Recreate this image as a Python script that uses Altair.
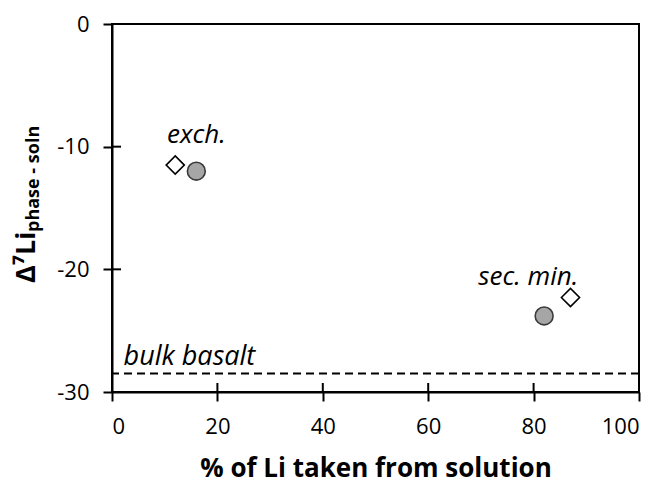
import altair as alt
import pandas as pd

# Δ7Li fractionation vs. fraction of Li removed from solution
open_x = [12, 87]          # open diamonds
open_y = [-11.5, -22.3]
filled_x = [16, 82]        # filled circles
filled_y = [-12.0, -23.8]

label_text = ["exch.", "sec. min."]
label_x = [16, 79]
label_y = [-9.7, -21.3]

bulk_basalt = -28.5
x_ticks = [0, 20, 40, 60, 80, 100]
y_ticks = [-30, -20, -10, 0]

FONT = "Open Sans"
W, H = 527, 368
TICK = 9

diamonds = pd.DataFrame({"x": open_x, "y": open_y})
circles = pd.DataFrame({"x": filled_x, "y": filled_y})
labels = pd.DataFrame({"x": label_x, "y": label_y, "t": label_text})
basalt = pd.DataFrame({"y": [bulk_basalt], "t": ["bulk basalt"], "x": [2.2], "ty": [-27.8]})
xt = pd.DataFrame({"v": x_ticks})
yt = pd.DataFrame({"v": y_ticks})

xs = alt.Scale(domain=[0, 100], nice=False, zero=False)
ys = alt.Scale(domain=[-30, 0], nice=False, zero=False)

x_axis = alt.Axis(values=x_ticks, orient="bottom", grid=False,
                  title="% of Li taken from solution", titleFont=FONT,
                  titleFontSize=26, titleFontWeight="bold", titleColor="#000",
                  titleBaseline="alphabetic", titleY=84,
                  labelFont=FONT, labelFontSize=22, labelColor="#000",
                  labelPadding=15, tickSize=TICK)
y_axis = alt.Axis(values=y_ticks, orient="left", grid=False, title=None,
                  labelFont=FONT, labelFontSize=22, labelColor="#000",
                  labelPadding=14, tickSize=TICK, labelExpr="'' + datum.value")

diamond_layer = alt.Chart(diamonds).mark_point(
    shape="diamond", size=330, filled=True, fill="white",
    stroke="#000", strokeWidth=1.6, opacity=1
).encode(x=alt.X("x:Q", scale=xs, axis=x_axis), y=alt.Y("y:Q", scale=ys, axis=y_axis))

circle_layer = alt.Chart(circles).mark_point(
    shape="circle", size=320, filled=True, fill="#a6a6a6",
    stroke="#3a3a3a", strokeWidth=1.6, opacity=1
).encode(x=alt.X("x:Q", scale=xs), y=alt.Y("y:Q", scale=ys))

# inward halves of the crossing tick marks
x_inner = alt.Chart(xt).mark_rule(stroke="#000", strokeWidth=2).encode(
    x=alt.X("v:Q", scale=xs), y=alt.value(H), y2=alt.value(H - TICK))
y_inner = alt.Chart(yt).mark_rule(stroke="#000", strokeWidth=2).encode(
    y=alt.Y("v:Q", scale=ys), x=alt.value(0), x2=alt.value(TICK))

basalt_line = alt.Chart(basalt).mark_rule(
    stroke="#000", strokeWidth=2, strokeDash=[8, 5]
).encode(y=alt.Y("y:Q", scale=ys))

basalt_text = alt.Chart(basalt).mark_text(
    font=FONT, fontSize=27, fontStyle="italic", align="left",
    baseline="alphabetic", color="#000"
).encode(x=alt.X("x:Q", scale=xs), y=alt.Y("ty:Q", scale=ys), text="t:N")

label_layer = alt.Chart(labels).mark_text(
    font=FONT, fontSize=26, fontStyle="italic", align="center",
    baseline="alphabetic", color="#000"
).encode(x=alt.X("x:Q", scale=xs), y=alt.Y("y:Q", scale=ys), text="t:N")

# rotated y title with a subscript
title_src = alt.Data(values=[{}])
y_title_main = alt.Chart(title_src).mark_text(
    text="Δ⁷Li", font=FONT, fontSize=27, fontWeight="bold", angle=270,
    align="left", baseline="alphabetic", color="#000"
).encode(x=alt.value(-77), y=alt.value(259))
y_title_sub = alt.Chart(title_src).mark_text(
    text="phase - soln", font=FONT, fontSize=18, fontWeight="bold", angle=270,
    align="left", baseline="alphabetic", color="#000"
).encode(x=alt.value(-73), y=alt.value(208))

chart = alt.layer(
    basalt_line, basalt_text, label_layer, x_inner, y_inner,
    diamond_layer, circle_layer, y_title_main, y_title_sub
).properties(
    width=W, height=H,
    padding={"left": 112, "top": 24, "right": 24, "bottom": 93},
    autosize=alt.AutoSizeParams(type="none"),
    background="white",
).configure_view(stroke="#000", strokeWidth=2).configure_axis(
    domainColor="#000", domainWidth=2, tickColor="#000", tickWidth=2
)

chart.save("out.html", embed_options={"renderer": "svg", "actions": False})
